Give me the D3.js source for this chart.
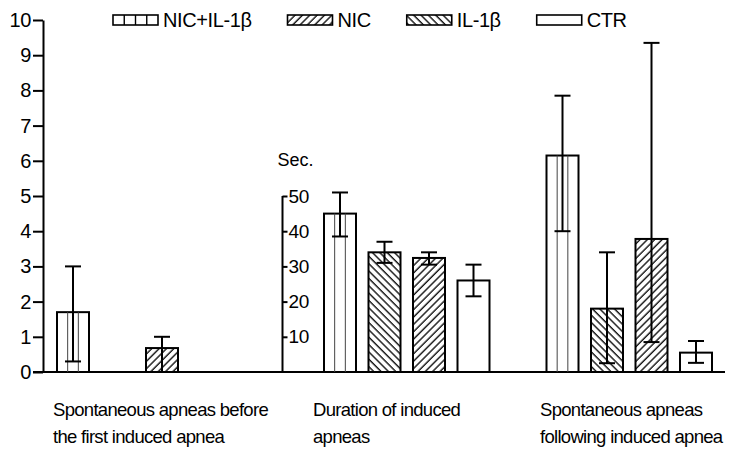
<!DOCTYPE html>
<html>
<head>
<meta charset="utf-8">
<script src="https://cdn.jsdelivr.net/npm/d3@7"></script>
<style>
  body { margin: 0; background: #fff; }
  svg { display: block; font-family: "Liberation Sans", Arial, sans-serif; }
</style>
</head>
<body>
<script>

// bar order inside each group
const series = ['NIC+IL-1β', 'IL-1β', 'NIC', 'CTR'];
const seriesFill = ['vstripe', 'hatch-back', 'hatch-fwd', 'none'];
const legendOrder = ['NIC+IL-1β', 'NIC', 'IL-1β', 'CTR'];

const groupLabels = [
  ['Spontaneous apneas before', 'the first induced apnea'],
  ['Duration of induced', 'apneas'],
  ['Spontaneous apneas', 'following induced apnea']
];

// spontaneous apneas before the first induced apnea (count)
const beforeMean = [1.7, 0, 0.68, 0];
const beforeHigh = [3.0, null, 1.0, null];
const beforeLow = [0.3, null, 0, null];

// duration of induced apneas (sec)
const durationMean = [45, 34, 32.4, 26];
const durationHigh = [51, 37, 34, 30.5];
const durationLow = [38.5, 31, 30.5, 21.5];

// spontaneous apneas following induced apnea (count)
const followMean = [6.15, 1.8, 3.78, 0.55];
const followHigh = [7.85, 3.4, 9.35, 0.88];
const followLow = [4.0, 0.25, 0.85, 0.26];

const countTicks = [0, 1, 2, 3, 4, 5, 6, 7, 8, 9, 10];
const secTicks = [10, 20, 30, 40, 50];

class chart {

  constructor(opts) {
    this.element = opts.element;
    this.draw();
  }

  draw() {
    this.width = 741;
    this.height = 453;

    this.svg = d3.select(this.element).append('svg')
      .attr('width', this.width)
      .attr('height', this.height);

    this.addPatterns();
    this.createScales();
    this.addAxes();
    this.addChart();
    this.addLegend();
    this.addLabels();
  }

  addPatterns() {
    const defs = this.svg.append('defs');
    [['hatch-fwd', 45], ['hatch-back', -45]].forEach(([id, angle]) => {
      const p = defs.append('pattern')
        .attr('id', id)
        .attr('patternUnits', 'userSpaceOnUse')
        .attr('width', 5.2)
        .attr('height', 10)
        .attr('patternTransform', `rotate(${angle})`);
      p.append('rect').attr('width', 5.2).attr('height', 10).attr('fill', '#fff');
      p.append('line')
        .attr('x1', 1).attr('x2', 1)
        .attr('y1', -1).attr('y2', 11)
        .attr('stroke', '#000').attr('stroke-width', 1.3);
    });
  }

  createScales() {
    // bar slots: group 1 uses 0-3, group 2 6-9, group 3 11-14
    this.groupSlot = [0, 6, 11];
    this.barWidth = 32;
    this.xScale = d3.scaleLinear().domain([0, 14]).range([57, 680]);

    this.yScale = d3.scaleLinear().domain([0, 10]).range([372, 20]);
    this.secScale = d3.scaleLinear().domain([0, 100]).range([372, 20]);
  }

  addAxes() {
    const yAxis = d3.axisLeft(this.yScale)
      .tickValues(countTicks)
      .tickSize(10)
      .tickSizeOuter(0)
      .tickPadding(2);

    const gy = this.svg.append('g')
      .attr('class', 'y axis')
      .attr('transform', 'translate(43,0)')
      .call(yAxis);
    gy.selectAll('path, line').attr('stroke', '#000').attr('stroke-width', 2);
    gy.selectAll('text').attr('font-size', 20).attr('letter-spacing', -0.4)
      .attr('font-family', null).attr('fill', '#000');

    // secondary axis for duration
    const secAxis = d3.axisRight(this.secScale)
      .tickValues(secTicks)
      .tickSize(5)
      .tickSizeOuter(0)
      .tickPadding(1);

    const gs = this.svg.append('g')
      .attr('class', 'sec axis')
      .attr('transform', `translate(${this.xScale(5) + 3},0)`)
      .call(secAxis);
    gs.select('.domain')
      .attr('d', `M0,${this.secScale(50)}V${this.secScale(0)}`);
    gs.selectAll('path, line').attr('stroke', '#000').attr('stroke-width', 2);
    gs.selectAll('text').attr('font-size', 19).attr('letter-spacing', -0.4)
      .attr('font-family', null).attr('fill', '#000');

    gs.append('text')
      .attr('x', -5)
      .attr('y', this.secScale(58.5))
      .attr('fill', '#000')
      .attr('font-size', 18)
      .attr('text-anchor', 'start')
      .text('Sec.');

    // baseline
    this.svg.append('line')
      .attr('x1', 33)
      .attr('x2', this.xScale(14) + this.barWidth + 13)
      .attr('y1', this.yScale(0))
      .attr('y2', this.yScale(0))
      .attr('stroke', '#000')
      .attr('stroke-width', 2);
  }

  addChart() {
    const groups = [
      { mean: beforeMean, high: beforeHigh, low: beforeLow, y: this.yScale },
      { mean: durationMean, high: durationHigh, low: durationLow, y: this.secScale },
      { mean: followMean, high: followHigh, low: followLow, y: this.yScale }
    ];

    const bars = [];
    groups.forEach((g, gi) => {
      series.forEach((s, si) => {
        bars.push({
          slot: this.groupSlot[gi] + si,
          mean: g.mean[si], high: g.high[si], low: g.low[si],
          y: g.y, fill: seriesFill[si]
        });
      });
    });

    const w = this.barWidth;
    const bar = this.svg.selectAll('.bar')
      .data(bars.filter(d => d.mean > 0))
      .enter().append('g')
        .attr('class', 'bar')
        .attr('transform', d => `translate(${this.xScale(d.slot)},0)`);

    bar.append('rect')
      .attr('x', 0)
      .attr('y', d => d.y(d.mean))
      .attr('width', w)
      .attr('height', d => d.y(0) - d.y(d.mean))
      .attr('fill', d => d.fill.startsWith('hatch') ? `url(#${d.fill})` : '#fff')
      .attr('stroke', '#000')
      .attr('stroke-width', 2);

    // vertical stripes inside NIC+IL-1β bars
    bar.filter(d => d.fill === 'vstripe')
      .selectAll('.stripe')
      .data(d => d3.range(w / 3, w - 1, w / 3).map(o => ({ o: o, d: d })))
      .enter().append('line')
        .attr('class', 'stripe')
        .attr('x1', e => e.o).attr('x2', e => e.o)
        .attr('y1', e => e.d.y(e.d.mean))
        .attr('y2', e => e.d.y(0))
        .attr('stroke', '#444')
        .attr('stroke-width', 1);

    // error bars
    const err = bar.filter(d => d.high != null);
    err.append('line')
      .attr('x1', w / 2).attr('x2', w / 2)
      .attr('y1', d => d.y(d.high))
      .attr('y2', d => d.y(d.low))
      .attr('stroke', '#000')
      .attr('stroke-width', 2);
    ['high', 'low'].forEach(k => {
      err.append('line')
        .attr('x1', w / 2 - 8).attr('x2', w / 2 + 8)
        .attr('y1', d => d.y(d[k]))
        .attr('y2', d => d.y(d[k]))
        .attr('stroke', '#000')
        .attr('stroke-width', 2);
    });
  }

  addLegend() {
    const lg = this.svg.append('g').attr('class', 'legend');
    let x = 113;
    legendOrder.forEach(name => {
      const fill = seriesFill[series.indexOf(name)];
      const sw = 45;
      lg.append('rect')
        .attr('x', x).attr('y', 15)
        .attr('width', sw).attr('height', 10)
        .attr('fill', fill.startsWith('hatch') ? `url(#${fill})` : '#fff')
        .attr('stroke', '#000')
        .attr('stroke-width', 1.6);
      if (fill === 'vstripe') {
        d3.range(11.25, sw - 1, 11.25).forEach(o => {
          lg.append('line')
            .attr('x1', x + o).attr('x2', x + o)
            .attr('y1', 15).attr('y2', 25)
            .attr('stroke', '#000').attr('stroke-width', 1.4);
        });
      }
      const t = lg.append('text')
        .attr('x', x + sw + 5)
        .attr('y', 27)
        .attr('font-size', 20)
        .attr('letter-spacing', -0.4)
        .text(name);
      x += sw + 5 + t.node().getComputedTextLength() + 36;
    });
  }

  addLabels() {
    const labelX = [53, 313, 540];
    groupLabels.forEach((lines, i) => {
      const t = this.svg.append('text')
        .attr('x', labelX[i])
        .attr('y', 416)
        .attr('font-size', 18.5)
        .attr('letter-spacing', -0.7);
      lines.forEach((l, j) => {
        t.append('tspan')
          .attr('x', labelX[i])
          .attr('dy', j === 0 ? 0 : 27)
          .text(l);
      });
    });
  }

}

new chart({ element: document.body });

</script>
</body>
</html>
